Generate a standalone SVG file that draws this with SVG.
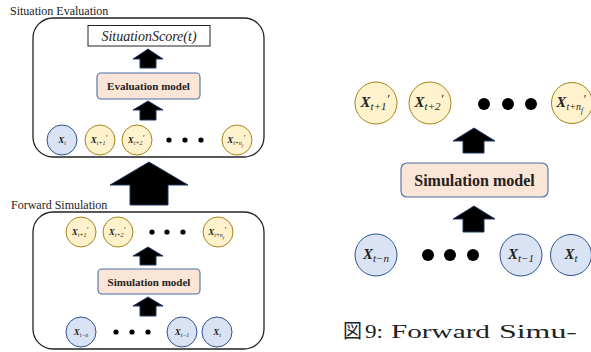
<svg xmlns="http://www.w3.org/2000/svg" width="591" height="352" viewBox="0 0 591 352">
<style>
.panel{fill:none;stroke:#222;stroke-width:1.3}
.lbl{font-family:"Liberation Serif","Times New Roman",serif;font-size:12px;fill:#222}
.cb{fill:#dae3f3;stroke:#2f528f;stroke-width:1}
.cy{fill:#fff2cc;stroke:#a58419;stroke-width:1}
.mdl{fill:#fbe5d6;stroke:#4a6fa5;stroke-width:1.1}
.mt{font-family:"Liberation Serif","Times New Roman",serif;font-weight:bold;fill:#222;text-anchor:middle}
.x{font-family:"Liberation Serif","Times New Roman",serif;font-weight:bold;font-style:italic;fill:#222;text-anchor:middle}
.xs{font-weight:normal}
.arr{fill:#000;stroke:#203864;stroke-width:1}
.dot{fill:#000}
.s{font-size:9px}
.b{font-size:15px}
.cap{font-family:"Liberation Serif","Noto Sans CJK JP",serif;font-size:19px;fill:#222}
</style>

<text class="lbl" x="10" y="15">Situation Evaluation</text>
<text class="lbl" x="11" y="209">Forward Simulation</text>

<g id="situation-evaluation">
<rect class="panel" x="33" y="18" width="231" height="139" rx="20"/>
</g>
<g id="forward-simulation">
<rect class="panel" x="33" y="212" width="231" height="137" rx="20"/>
</g>

<g id="situation-score">
<rect x="88" y="25.5" width="122" height="20.5" fill="#fff" stroke="#222" stroke-width="1"/>
<text x="149" y="40.5" text-anchor="middle" font-family="Liberation Serif,serif" font-style="italic" font-size="14" fill="#222">SituationScore(t)</text>
</g>
<g id="evaluation-model">
<rect class="mdl" x="97" y="73" width="103" height="26" rx="4"/>
<text class="mt" x="148.5" y="90" font-size="11">Evaluation model</text>
</g>

<!-- top panel circles -->
<g id="se-xt"><circle class="cb" cx="62" cy="140" r="15"/><text class="x s" x="62" y="143">X<tspan class="xs" font-size="6" dy="2">t</tspan></text></g>
<g id="se-xt1"><circle class="cy" cx="100" cy="140" r="15"/><text class="x s" x="99" y="143">X<tspan class="xs" font-size="6" dy="2">t+1</tspan><tspan class="xs" font-size="8" dy="-4">′</tspan></text></g>
<g id="se-xt2"><circle class="cy" cx="137" cy="140" r="15"/><text class="x s" x="136" y="143">X<tspan class="xs" font-size="6" dy="2">t+2</tspan><tspan class="xs" font-size="8" dy="-4">′</tspan></text></g>
<g id="se-dots"><circle class="dot" cx="169" cy="140" r="2.6"/><circle class="dot" cx="185" cy="140" r="2.6"/><circle class="dot" cx="201" cy="140" r="2.6"/></g>
<g id="se-xtnf"><circle class="cy" cx="237" cy="140" r="15"/><text class="x s" x="236" y="143">X<tspan class="xs" font-size="6" dy="2">t+n</tspan><tspan class="xs" font-size="4.5" dy="1.5">f</tspan><tspan class="xs" font-size="8" dy="-6">′</tspan></text></g>

<!-- bottom panel -->
<g id="fs-xt1"><circle class="cy" cx="81" cy="232" r="15"/><text class="x s" x="80" y="235">X<tspan class="xs" font-size="6" dy="2">t+1</tspan><tspan class="xs" font-size="8" dy="-4">′</tspan></text></g>
<g id="fs-xt2"><circle class="cy" cx="118" cy="232" r="15"/><text class="x s" x="117" y="235">X<tspan class="xs" font-size="6" dy="2">t+2</tspan><tspan class="xs" font-size="8" dy="-4">′</tspan></text></g>
<g id="fs-dots-top"><circle class="dot" cx="152" cy="232" r="2.6"/><circle class="dot" cx="167" cy="232" r="2.6"/><circle class="dot" cx="183" cy="232" r="2.6"/></g>
<g id="fs-xtnf"><circle class="cy" cx="218" cy="232" r="15"/><text class="x s" x="217" y="235">X<tspan class="xs" font-size="6" dy="2">t+n</tspan><tspan class="xs" font-size="4.5" dy="1.5">f</tspan><tspan class="xs" font-size="8" dy="-6">′</tspan></text></g>
<g id="fs-simulation-model">
<rect class="mdl" x="98" y="269" width="102" height="25" rx="4"/>
<text class="mt" x="149" y="285.5" font-size="11">Simulation model</text>
</g>
<g id="fs-xtn"><circle class="cb" cx="81" cy="332" r="15"/><text class="x s" x="81" y="335">X<tspan class="xs" font-size="6" dy="2">t−n</tspan></text></g>
<g id="fs-dots-bottom"><circle class="dot" cx="116" cy="332" r="2.6"/><circle class="dot" cx="132" cy="332" r="2.6"/><circle class="dot" cx="148" cy="332" r="2.6"/></g>
<g id="fs-xtm1"><circle class="cb" cx="182" cy="332" r="15"/><text class="x s" x="182" y="335">X<tspan class="xs" font-size="6" dy="2">t−1</tspan></text></g>
<g id="fs-xt"><circle class="cb" cx="217" cy="332" r="15"/><text class="x s" x="217" y="335">X<tspan class="xs" font-size="6" dy="2">t</tspan></text></g>

<!-- right figure -->
<g id="r-xt1"><circle class="cy" cx="376" cy="103" r="21"/><text class="x b" x="375" y="107">X<tspan class="xs" font-size="11" font-style="italic" dy="3">t+1</tspan><tspan class="xs" font-size="13" dy="-7">′</tspan></text></g>
<g id="r-xt2"><circle class="cy" cx="430" cy="103" r="21"/><text class="x b" x="429" y="107">X<tspan class="xs" font-size="11" font-style="italic" dy="3">t+2</tspan><tspan class="xs" font-size="13" dy="-7">′</tspan></text></g>
<g id="r-dots-top"><circle class="dot" cx="484" cy="104" r="6"/><circle class="dot" cx="508" cy="104" r="6"/><circle class="dot" cx="531" cy="104" r="6"/></g>
<g id="r-xtnf"><circle class="cy" cx="572" cy="103" r="20.5"/><text class="x b" x="571" y="107">X<tspan class="xs" font-size="10" font-style="italic" dy="3">t+n</tspan><tspan class="xs" font-size="7.5" font-style="italic" dy="2.5">f</tspan><tspan class="xs" font-size="12" dy="-10">′</tspan></text></g>
<g id="r-simulation-model">
<rect class="mdl" x="401" y="163" width="147" height="34" rx="6"/>
<text class="mt" x="474.5" y="185.5" font-size="16">Simulation model</text>
</g>
<g id="r-xtn"><circle class="cb" cx="376" cy="255" r="21"/><text class="x b" x="376" y="259">X<tspan class="xs" font-size="11" font-style="italic" dy="3">t−n</tspan></text></g>
<g id="r-dots-bottom"><circle class="dot" cx="428" cy="255" r="6"/><circle class="dot" cx="450" cy="255" r="6"/><circle class="dot" cx="473" cy="255" r="6"/></g>
<g id="r-xtm1"><circle class="cb" cx="521" cy="255" r="21"/><text class="x b" x="521" y="259">X<tspan class="xs" font-size="11" font-style="italic" dy="3">t−1</tspan></text></g>
<g id="r-xt"><circle class="cb" cx="571" cy="255" r="20.5"/><text class="x b" x="571" y="259">X<tspan class="xs" font-size="11" font-style="italic" dy="3">t</tspan></text></g>

<g id="connectors">
<polygon class="arr" points="148,49 163,59 156,59 156,68 140,68 140,59 133,59"/>
<polygon class="arr" points="148,101 163,110 156,110 156,120 140,120 140,110 133,110"/>
<polygon class="arr" points="149,162 188,185 168,185 168,205 130,205 130,185 110,185"/>
<polygon class="arr" points="148,247 163,256 156,256 156,265 140,265 140,256 133,256"/>
<polygon class="arr" points="148,297 163,306 156,306 156,316 140,316 140,306 133,306"/>
<polygon class="arr" points="474,128 495,141 484,141 484,153 463,153 463,141 453,141"/>
<polygon class="arr" points="474,206 495,219 484,219 484,232 463,232 463,219 453,219"/>
</g>

<g id="caption">
<text class="cap" x="343" y="338" font-size="17">図</text>
<text class="cap" x="365" y="338" textLength="18" lengthAdjust="spacingAndGlyphs">9:</text>
<text class="cap" x="391" y="338" textLength="99" lengthAdjust="spacingAndGlyphs">Forward</text>
<text class="cap" x="499" y="338" textLength="78" lengthAdjust="spacingAndGlyphs">Simu-</text>
</g>
</svg>
